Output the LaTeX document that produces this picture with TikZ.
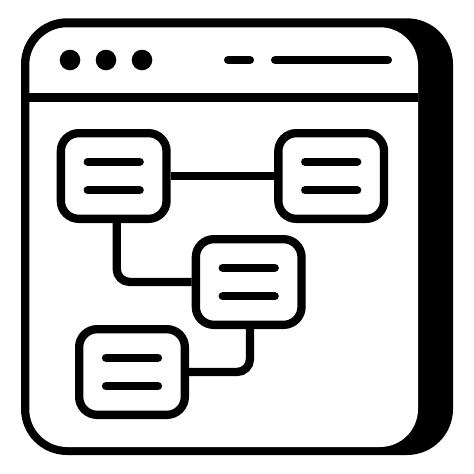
\documentclass[tikz,border=0pt]{standalone}
\usetikzlibrary{calc}
\begin{document}
\begin{tikzpicture}[x=1pt,y=-1pt,
  boxnode/.style={draw=black,fill=white,line width=8.3pt,rectangle,rounded corners=18pt,
    minimum width=105.7pt,minimum height=85.7pt,inner sep=0pt},
  txtline/.style={line width=8.3pt,line cap=round},
  conn/.style={line width=8.3pt,rounded corners=13pt},
  barline/.style={line width=8.7pt,line cap=round}]
\useasboundingbox[fill=white] (0,0) rectangle (474,474);
% window frame with shadow
\fill[black,rounded corners=46pt] (21,18.3) rectangle (453,455);
\fill[white,rounded corners=38pt] (29.3,27.3) rectangle (418,447);
\fill[black] (29.3,92.7) rectangle (418,101.7);
% header dots and bars
\fill (70,60) circle (10.3);
\fill (106,60) circle (10.3);
\fill (142,60) circle (10.3);
\draw[barline] (228.3,60) -- (249.7,60);
\draw[barline] (275.3,60) -- (387.7,60);
% boxes
\node[boxnode] (b1) at (113.7,176) {};
\node[boxnode] (b2) at (331.2,176) {};
\node[boxnode] (b3) at (248.7,282) {};
\node[boxnode] (b4) at (132,372) {};
% connectors
\draw[conn] (b1.east) -- (b2.west);
\draw[conn] ([xshift=3pt]b1.south) |- (b3.west);
\draw[conn] ([xshift=1.3pt]b3.south) |- (b4.east);
% text lines inside boxes
\foreach \b in {b1,b2,b3,b4}{
  \draw[txtline] ($(\b.center)+(-26,-14.3)$) -- ($(\b.center)+(26,-14.3)$);
  \draw[txtline] ($(\b.center)+(-26,14.3)$) -- ($(\b.center)+(26,14.3)$);
}
\end{tikzpicture}
\end{document}
